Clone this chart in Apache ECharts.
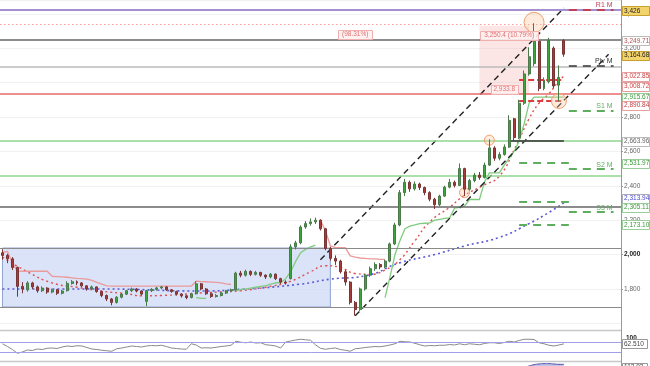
<!DOCTYPE html>
<html><head><meta charset="utf-8">
<script src="https://cdn.jsdelivr.net/npm/echarts@6/dist/echarts.min.js"></script>
<style>html,body{margin:0;padding:0;background:#fff}#c{width:650px;height:366px}</style>
</head><body><div id="c"></div>
<script>
// ---------- DATA ----------
const SLOT_COUNT = 125;
const categories = Array.from({length: SLOT_COUNT}, (_, i) => 'D' + (i + 1));

// [open, close, low, high]
const candles = [
[2010,1995,1970,2030],[1995,1975,1950,2005],[1975,1925,1910,1985],[1925,1815,1755,1930],[1815,1800,1775,1840],
[1795,1835,1785,1845],[1835,1812,1800,1842],[1812,1790,1778,1820],[1790,1805,1782,1815],[1805,1782,1772,1810],
[1782,1795,1775,1802],[1795,1775,1765,1800],[1775,1788,1768,1795],[1790,1832,1785,1845],[1832,1842,1825,1852],
[1842,1835,1822,1850],[1835,1818,1810,1840],[1818,1800,1790,1822],[1800,1812,1795,1820],[1812,1785,1778,1815],
[1785,1762,1752,1790],[1762,1742,1730,1768],[1742,1722,1705,1748],[1722,1752,1715,1758],[1752,1770,1745,1776],
[1770,1790,1765,1795],[1790,1800,1782,1808],[1800,1788,1780,1805],[1788,1770,1762,1792],[1728,1790,1700,1795],
[1790,1798,1782,1805],[1798,1806,1790,1812],[1806,1812,1798,1818],[1812,1795,1788,1815],[1795,1785,1778,1800],
[1785,1770,1762,1790],[1770,1760,1750,1775],[1760,1750,1740,1765],[1750,1772,1745,1778],[1772,1830,1768,1845],
[1830,1800,1792,1835],[1800,1772,1765,1805],[1772,1756,1748,1778],[1756,1762,1750,1770],[1762,1776,1756,1782],
[1776,1790,1770,1795],[1790,1795,1784,1802],[1795,1892,1790,1900],[1892,1880,1868,1905],[1880,1902,1872,1912],
[1902,1885,1875,1908],[1885,1896,1878,1905],[1896,1880,1870,1900],[1880,1870,1858,1885],[1870,1886,1862,1892],
[1886,1860,1852,1890],[1860,1840,1830,1865],[1840,1835,1825,1850],[1860,2045,1855,2060],[2045,2068,2030,2080],
[2068,2160,2060,2170],[2160,2180,2150,2195],[2180,2190,2168,2210],[2190,2200,2178,2215],[2200,2150,2140,2205],
[2150,2035,2025,2155],[2035,1978,1965,2045],[1978,1962,1940,1995],[1962,1900,1890,1970],[1900,1840,1820,1910],
[1840,1722,1710,1845],[1722,1680,1645,1730],[1680,1800,1672,1808],[1800,1880,1790,1888],[1880,1918,1870,1930],
[1918,1942,1905,1955],[1942,1928,1915,1950],[1928,1962,1920,1970],[1962,2062,1955,2070],[2062,2172,2055,2185],
[2172,2360,2165,2375],[2360,2420,2340,2440],[2420,2382,2365,2430],[2382,2410,2372,2425],[2410,2390,2375,2418],
[2390,2360,2345,2395],[2360,2322,2310,2368],[2322,2290,2265,2330],[2290,2340,2282,2348],[2340,2392,2335,2400],
[2392,2420,2385,2440],[2420,2402,2390,2430],[2402,2500,2398,2530],[2500,2380,2340,2505],[2380,2430,2372,2440],
[2430,2462,2420,2475],[2462,2448,2435,2480],[2448,2520,2442,2535],[2520,2620,2515,2670],[2620,2560,2545,2630],
[2560,2582,2548,2595],[2582,2625,2575,2640],[2625,2780,2620,2810],[2790,2680,2660,2795],[2680,2880,2672,2900],
[2880,3050,2870,3070],[3050,3150,3040,3205],[3110,3240,3095,3345],[3240,2965,2950,3250],[2965,3015,2955,3030],
[3005,3245,2995,3260],[3200,2980,2968,3210],[2985,3030,2890,3100],[3245,3164.68,3150,3252]
];

const trendDown = [
2012,2019,1950,1905,1903,1903,1903,1903,1903,1903,
1874,1872,1870,1868,1865,1862,1860,1857,1850,1838,
1828,1818,1816,1816,1816,1816,1816,1816,1816,1816,
1816,1816,1816,1816,1816,1816,1816,1816,1816,1845,
1843,1842,1840,1838,1835,1830,1826,null,null,null,
null,null,null,null,null,null,null,null,null,null,
null,null,null,null,2200,2140,2050,2040,2040,2040,
1992,1985,1980,1978,1975,1975,1972,1972,null,null,
null,null,null,null,null,null,null,null,null,null,
null,null,null,null,null,null,null,null,null,null,
null,null,null,null,null,null,null,null,null,null,
null,null,null,null
];

const trendUp = [
null,null,null,null,null,null,null,null,null,null,
null,null,null,null,null,null,null,null,null,null,
null,null,null,null,null,null,null,null,null,null,
null,null,null,null,null,null,null,null,null,1750,
1745,1745,null,null,null,null,null,1790,1797,1800,
1805,1810,1815,1820,1828,1836,1836,1860,1900,1960,
2010,2030,2045,2055,null,null,null,null,null,null,
null,null,null,null,null,null,null,1750,1870,2000,
2080,2150,2165,2172,2180,2182,2184,2200,2205,2210,
2213,2270,2275,2281,2320,2320,2320,2420,2475,2475,
2475,2520,2560,2600,2660,2760,2880,2915.67,2915.67,2915.67,
2915.67,2915.67,2915.67,2915.67
];

const emaFast = [[0,1985],[5,1900],[10,1835],[15,1810],[20,1787],[25,1772],[28,1760],[32,1762],[36,1768],
[40,1777],[45,1784],[48,1790],[53,1810],[58,1845],[62,1900],[65,1935],[68,1925],[71,1890],[74,1885],
[77,1910],[80,1970],[83,2080],[86,2190],[90,2275],[93,2345],[97,2405],[100,2455],[103,2610],[106,2790],
[108,2880],[110,2935],[112,3010],[113,3037]];

const emaSlow = [[0,1800],[20,1800],[40,1788],[48,1798],[60,1828],[66,1857],[73,1876],[80,1952],[87,2000],
[93,2050],[100,2100],[106,2180],[110,2245],[113,2300]];

const channelUpper = [[64,1970],[113,3433]];
const channelLower = [[71,1644],[122,3164]];

const rsiValues = [
63,52,40,25,30,38,36,42,40,45,46,44,50,54,52,55,54,48,42,40,
37,35,33,43,46,50,54,52,50,54,56,55,57,52,46,44,42,41,63,58,
46,47,46,49,52,54,57,73,69,67,70,66,67,59,57,54,46,70,74,78,
81,79,77,59,45,41,44,46,40,37,33,43,45,48,50,52,51,54,58,63,
73,71,70,65,59,54,56,55,57,57,60,58,63,59,63,61,59,64,67,67,
64,68,73,70,76,81,81,80,67,63,57,54,58,62.51
];

const lowerPanel = [[96,60],[100,85],[104,100],[106,108],[107,112],[108,114],[109,115],[110,115],[111,114],[112,113],[113,112.93]];

const fullLevels = [3426, 3340, 3249.71, 3090, 2933.8, 2663.96, 2460, 2280, 2038, 1695];
const priceTags = [3426, 3249.71, 3164.68, 3022.85, 3008.72, 2915.67, 2890.84, 2663.96, 2531.97, 2313.94, 2305.11, 2173.10];

// ---------- STYLES ----------
const levelStyles = [
  {color:'#a48fd0', width:2, type:'solid'},
  {color:'#f2a0a0', width:1.2, type:[1.5,2.5]},
  {color:'#666', width:1.5, type:'solid'},
  {color:'#bbb', width:1.5, type:'solid'},
  {color:'#e86a6a', width:1.5, type:'solid'},
  {color:'#8fd68f', width:1.5, type:'solid'},
  {color:'#8fd68f', width:1.5, type:'solid'},
  {color:'#666', width:1.5, type:'solid'},
  {color:'#8a8a8a', width:1.2, type:'solid'},
  {color:'#8a8a8a', width:1.2, type:'solid'}
];
const tagNudge = [1.5, 1, 1, -2.5, 5, 0, 4, 1, 0, -2.5, 5, 0];
const tagStyles = [
  ['#f3d36b','#c8a030','#222'],
  ['#fff','#bbb','#b05050'],
  ['#f3d36b','#c8a030','#222'],
  ['#fff','#e4a0a0','#d04040'],
  ['#fff','#e4a0a0','#d04040'],
  ['#fff','#9c9','#3a9a3a'],
  ['#fff','#e4a0a0','#c04040'],
  ['#fff','#bbb','#666'],
  ['#fff','#9c9','#3a9a3a'],
  ['#fff','#aab','#4848d0'],
  ['#fff','#9c9','#3a9a3a'],
  ['#fff','#9c9','#3a9a3a']
];
const FONT = '"Liberation Sans", Arial, sans-serif';

function seg(x1, x2, v, color, width, type, label, labelColor) {
  const s = [{coord:[x1, v], lineStyle:{color, width, type}}, {coord:[x2, v]}];
  if (label) s[0].label = {show:true, position:'insideEndTop', formatter:label, color:labelColor||color,
                            fontSize:7, fontFamily:FONT, distance:1};
  return s;
}

const chart = echarts.init(document.getElementById('c'), null, {renderer:'canvas'});

const option = {
  animation:false,
  backgroundColor:'#fff',
  grid:[
    {left:0, right:29, top:0, height:323.36, containLabel:false, outerBoundsMode:'none'},
    {left:0, right:29, top:334.5, height:25, containLabel:false, outerBoundsMode:'none'},
    {left:0, right:29, top:362, height:40, containLabel:false, outerBoundsMode:'none'}
  ],
  xAxis:[0,1,2].map(g => ({type:'category', gridIndex:g, data:categories, boundaryGap:true,
      axisLine:{show:false}, axisTick:{show:false}, axisLabel:{show:false}, splitLine:{show:false}})),
  yAxis:[
    {type:'value', gridIndex:0, position:'right', min:1600, max:3480, interval:200, scale:true,
     axisLine:{show:true, lineStyle:{color:'#999'}}, axisTick:{show:true, length:2, lineStyle:{color:'#999'}},
     axisLabel:{show:true, showMinLabel:false, showMaxLabel:false, margin:3, fontSize:6.5, fontFamily:FONT, color:'#666',
       formatter:v => v % 1000 === 0 ? '{b|' + v.toLocaleString('en-US') + '}' : v.toLocaleString('en-US'),
       rich:{b:{fontWeight:'bold', color:'#222', fontSize:6.5, fontFamily:FONT}}},
     splitLine:{show:true, lineStyle:{color:'#f1f1f1', width:1}}},
    {type:'value', gridIndex:1, position:'right', min:0, max:100, interval:100,
     axisLine:{show:false}, axisTick:{show:false},
     axisLabel:{show:true, showMinLabel:false, margin:5, fontSize:6.5, fontWeight:'bold', color:'#222', fontFamily:FONT,
       verticalAlign:'top'},
     splitLine:{show:false}},
    {type:'value', gridIndex:2, position:'right', min:0, max:120, show:false, splitLine:{show:false}}
  ],
  series:[
    {type:'line', name:'areas', xAxisIndex:0, yAxisIndex:0, data:[], z:1, silent:true,
     markArea:{silent:true, data:[
       [{xAxis:0, yAxis:2038, itemStyle:{color:'rgba(205,218,246,0.75)', borderColor:'#8fa3cf', borderWidth:1}}, {xAxis:66, yAxis:1695}],
       [{xAxis:96, yAxis:3330, itemStyle:{color:'rgba(242,160,160,0.28)'}}, {xAxis:106, yAxis:2933.8}]
     ]}},
    {type:'line', name:'levels', xAxisIndex:0, yAxisIndex:0, data:[], z:2, silent:true,
     markLine:{silent:true, symbol:['none','none'], animation:false, label:{show:false},
       data: fullLevels.map((v, k) => ({yAxis:v, lineStyle:levelStyles[k], label:{show:false}})).concat([
         seg(102, 113, 2663.96, '#333', 1.5, 'solid'),
         seg(104, 113, 3018, '#e03a3a', 2, [6,3]),
         seg(104, 113, 2893, '#e03a3a', 2, [6,3]),
         seg(114, 123, 3426, '#c0405a', 2, [8,6], 'R1 M'),
         seg(114, 123, 3096, '#333', 1.5, [8,6], 'Piv M'),
         seg(114, 123, 2835, '#5fae5f', 2, [8,6], 'S1 M'),
         seg(104, 114, 2531.97, '#5fae5f', 2, [8,6]),
         seg(114, 123, 2497, '#5fae5f', 2, [8,6], 'S2 M'),
         seg(104, 114, 2305.11, '#5fae5f', 2, [8,6]),
         seg(104, 114, 2173.10, '#5fae5f', 2, [8,6]),
         seg(114, 123, 2247, '#5fae5f', 2, [8,6], 'S3 M')
       ])}},
    {type:'line', name:'EMA slow', xAxisIndex:0, yAxisIndex:0, data:emaSlow, smooth:true, showSymbol:false, z:3,
     lineStyle:{color:'#5a5ad8', width:1.6, type:[2,3]}},
    {type:'line', name:'EMA fast', xAxisIndex:0, yAxisIndex:0, data:emaFast, smooth:true, showSymbol:false, z:3,
     lineStyle:{color:'#e05050', width:1.4, type:[2,3]}},
    {type:'line', name:'trend down', xAxisIndex:0, yAxisIndex:0, data:trendDown, showSymbol:false, connectNulls:false, z:3,
     lineStyle:{color:'#eb9a9a', width:1.3}},
    {type:'line', name:'trend up', xAxisIndex:0, yAxisIndex:0, data:trendUp, showSymbol:false, connectNulls:false, z:3,
     lineStyle:{color:'#7fcc7f', width:1.3}},
    {type:'line', name:'channel upper', xAxisIndex:0, yAxisIndex:0, data:channelUpper, showSymbol:false, z:4,
     lineStyle:{color:'#222', width:1.4, type:[6,4]}},
    {type:'line', name:'channel lower', xAxisIndex:0, yAxisIndex:0, data:channelLower, showSymbol:false, z:4,
     lineStyle:{color:'#222', width:1.4, type:[6,4]}},
    {type:'candlestick', name:'price', xAxisIndex:0, yAxisIndex:0, data:candles, z:5, barMaxWidth:3,
     itemStyle:{color:'#3ca63c', color0:'#a83a3a', borderColor:'#4a7a4a', borderColor0:'#7a3434', borderWidth:1},
     markPoint:{silent:true, symbol:'circle', label:{show:false},
       itemStyle:{color:'rgba(250,200,160,0.35)', borderColor:'#f0a070', borderWidth:1},
       data:[{coord:[107,3350], symbolSize:20}, {coord:[98,2665], symbolSize:10},
             {coord:[93,2360], symbolSize:10}, {coord:[112,2893], symbolSize:15}]}},
    {type:'line', name:'RSI', xAxisIndex:1, yAxisIndex:1, data:rsiValues, showSymbol:false, z:4,
     lineStyle:{color:'#8a8a8a', width:1},
     markLine:{silent:true, symbol:['none','none'], label:{show:false},
       data:[{yAxis:70, lineStyle:{color:'#a0a0ea', width:1, type:'solid'}},
             {yAxis:30, lineStyle:{color:'#a0a0ea', width:1, type:'solid'}}]}},
    {type:'line', name:'lower', xAxisIndex:2, yAxisIndex:2, data:lowerPanel, showSymbol:false, smooth:true, z:3,
     lineStyle:{color:'#4a4aa0', width:1}, areaStyle:{color:'rgba(120,120,210,0.6)'}}
  ]
};
chart.setOption(option);

// ---------- ANNOTATIONS (positions via library scales) ----------
const fmt = v => v % 1 === 0 ? v.toLocaleString('en-US') :
  v.toLocaleString('en-US', {minimumFractionDigits:2, maximumFractionDigits:2});
const g = [];
priceTags.forEach((v, k) => {
  const y = chart.convertToPixel({yAxisIndex:0}, v) + tagNudge[k];
  const st = tagStyles[k];
  g.push({type:'rect', z:100, shape:{x:622.5, y:Math.round(y - 4.5) + 0.5, width:27, height:9},
          style:{fill:st[0], stroke:st[1], lineWidth:1}});
  g.push({type:'text', z:101, style:{x:624, y:Math.round(y) + 0.5, text:fmt(v), font:'6.5px ' + FONT, fill:st[2],
          align:'left', verticalAlign:'middle'}});
});
// RSI current value tag
{
  const y = chart.convertToPixel({yAxisIndex:1}, 62.51);
  g.push({type:'rect', z:100, shape:{x:622.5, y:Math.round(y - 4.5) + 0.5, width:25, height:9},
          style:{fill:'#fff', stroke:'#999', lineWidth:1}});
  g.push({type:'text', z:101, style:{x:624, y:Math.round(y) + 0.5, text:'62.510', font:'6.5px ' + FONT, fill:'#444',
          align:'left', verticalAlign:'middle'}});
  const y2 = chart.convertToPixel({yAxisIndex:2}, 112.93);
  g.push({type:'rect', z:100, shape:{x:622.5, y:Math.round(y2 - 1.5) + 0.5, width:25, height:9},
          style:{fill:'#fff', stroke:'#999', lineWidth:1}});
  g.push({type:'text', z:101, style:{x:624, y:Math.round(y2 + 3) + 0.5, text:'112.93', font:'6.5px ' + FONT, fill:'#444',
          align:'left', verticalAlign:'middle'}});
}
// measurement labels
[['(98.31%)', 71, 3282, 34], ['3,250.4 (10.79%)', 102, 3276, 58], ['2,933.8', 101, 2962, 27]].forEach(a => {
  const p = chart.convertToPixel({xAxisIndex:0, yAxisIndex:0}, [a[1], a[2]]);
  g.push({type:'rect', z:90, shape:{x:Math.round(p[0] - a[3] / 2) + 0.5, y:Math.round(p[1] - 4.5) + 0.5, width:a[3], height:9},
          style:{fill:'rgba(255,240,240,0.9)', stroke:'#f0b0b0', lineWidth:1}});
  g.push({type:'text', z:91, style:{x:p[0], y:p[1] + 0.5, text:a[0], font:'6.5px ' + FONT, fill:'#e07070',
          align:'center', verticalAlign:'middle'}});
});
// panel frame lines
g.push({type:'line', z:50, shape:{x1:621.5, y1:0, x2:621.5, y2:366}, style:{stroke:'#999', lineWidth:1}});
g.push({type:'line', z:50, shape:{x1:0, y1:330.5, x2:621, y2:330.5}, style:{stroke:'#c8c8c8', lineWidth:1.5}});
g.push({type:'line', z:50, shape:{x1:0, y1:361.5, x2:621, y2:361.5}, style:{stroke:'#c8c8c8', lineWidth:1.5}});
chart.setOption({graphic:{elements:g}});
</script></body></html>
